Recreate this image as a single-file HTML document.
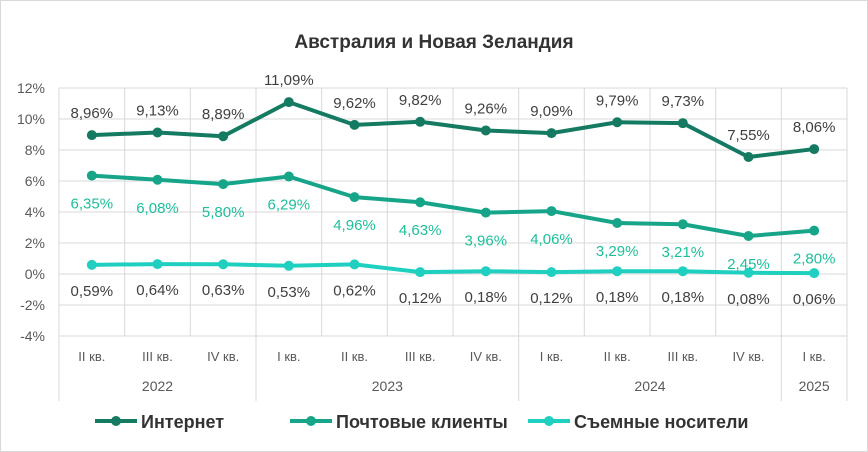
<!DOCTYPE html>
<html><head><meta charset="utf-8"><style>
body{margin:0;background:#fff;}
svg{display:block;font-family:"Liberation Sans",sans-serif;}
</style></head><body>
<svg id="c" width="868" height="452">
<rect x="0.5" y="0.5" width="867" height="451" fill="#fff" stroke="#d9d9d9"/>
<text x="434" y="48" text-anchor="middle" font-size="19" font-weight="bold" fill="#333">Австралия и Новая Зеландия</text>
<g id="grid"></g><g id="series"></g><g id="labels"></g><g id="axis"></g><g id="legend"></g>
</svg>
<script>
const categories=["II кв.","III кв.","IV кв.","I кв.","II кв.","III кв.","IV кв.","I кв.","II кв.","III кв.","IV кв.","I кв."];
const years=["2022","2023","2024","2025"];
const yearCounts=[3,4,4,1];
const internet=[8.96,9.13,8.89,11.09,9.62,9.82,9.26,9.09,9.79,9.73,7.55,8.06];
const postal=[6.35,6.08,5.80,6.29,4.96,4.63,3.96,4.06,3.29,3.21,2.45,2.80];
const removable=[0.59,0.64,0.63,0.53,0.62,0.12,0.18,0.12,0.18,0.18,0.08,0.06];
const yTicks=[12,10,8,6,4,2,0,-2,-4];
const seriesNames=["Интернет","Почтовые клиенты","Съемные носители"];
const NS="http://www.w3.org/2000/svg";
const L=59,R=847,T=88,B=336,yMin=-4,yMax=12;
const bw=(R-L)/categories.length;
const xs=i=>L+bw*(i+0.5);
const ys=v=>B-(v-yMin)/(yMax-yMin)*(B-T);
function mk(parent,tag,attrs,text){const e=document.createElementNS(NS,tag);for(const k in attrs)e.setAttribute(k,attrs[k]);if(text!==undefined)e.textContent=text;document.getElementById(parent).appendChild(e);return e;}
const fmt=v=>v.toFixed(2).replace('.',',')+'%';
yTicks.forEach(t=>{
 const l=mk('grid','line',{x1:L,x2:R,y1:ys(t),y2:ys(t),stroke:'#d9d9d9','stroke-width':1});
 
 
 const tx=mk('axis','text',{x:45,y:ys(t)+5,'text-anchor':'end','font-size':14,fill:'#595959'},t+'%');
 
 
});
for(let i=0;i<=categories.length;i++){
 const l=mk('grid','line',{x1:L+bw*i,x2:L+bw*i,y1:T,y2:B,stroke:'#d9d9d9','stroke-width':1});
 
 
}
categories.forEach((c,i)=>{
 const t=mk('axis','text',{x:xs(i),y:361,'text-anchor':'middle','font-size':13,fill:'#595959'},c);
 
 
});
let s=0;
const sep0=mk('axis','line',{x1:L,x2:L,y1:B,y2:401,stroke:'#d9d9d9'});


years.forEach((y,k)=>{
 const e=s+yearCounts[k];
 const t=mk('axis','text',{x:L+bw*(s+e)/2,y:391,'text-anchor':'middle','font-size':14,fill:'#595959'},y);
 
 
 const l=mk('axis','line',{x1:L+bw*e,x2:L+bw*e,y1:B,y2:401,stroke:'#d9d9d9'});
 
 
 s=e;
});
const cols=['#157a62','#17a58a','#1fcfbf'];
const labCols=['#404040','#1dbf9b','#404040'];
const offs=[-22,28,26];
[internet,postal,removable].forEach((arr,k)=>{
 const p=mk('series','polyline',{points:arr.map((v,i)=>xs(i)+','+ys(v)).join(' '),fill:'none',stroke:cols[k],'stroke-width':4,'stroke-linejoin':'round'});
 
 
 arr.forEach((v,i)=>{
  const c=mk('series','circle',{cx:xs(i),cy:ys(v),r:5,fill:cols[k]});
  
  
  const t=mk('labels','text',{x:xs(i),y:ys(v)+offs[k]+5,'text-anchor':'middle','font-size':15,fill:labCols[k]},fmt(v));
  
  
 });
});
const lx=[95,290,528];
seriesNames.forEach((n,k)=>{
 const l=mk('legend','line',{x1:lx[k],x2:lx[k]+42,y1:421,y2:421,stroke:cols[k],'stroke-width':4});
 
 
 const c=mk('legend','circle',{cx:lx[k]+21,cy:421,r:5,fill:cols[k]});
 
 
 const t=mk('legend','text',{x:lx[k]+46,y:428,'font-size':18,'font-weight':'bold',fill:'#333'},n);
 
 
});
</script>
</body></html>
